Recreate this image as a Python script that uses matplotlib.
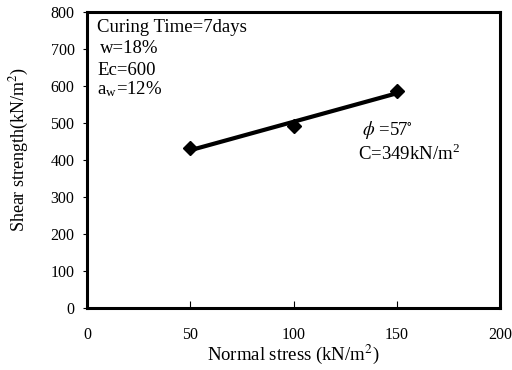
import numpy as np
import matplotlib
matplotlib.use("Agg")
import matplotlib.pyplot as plt

plt.rcParams['font.family'] = ['Liberation Serif', 'DejaVu Serif']
plt.rcParams['mathtext.fontset'] = 'stix'

normal_stress = [50, 100, 150]
shear_strength = [432, 492, 585]
phi_deg = 57
cohesion = 349
x_ticks = [0, 50, 100, 150, 200]
y_ticks = [0, 100, 200, 300, 400, 500, 600, 700, 800]

fig = plt.figure(figsize=(5.12, 3.70), dpi=100)
ax = fig.add_axes([0.170, 0.168, 0.807, 0.800])

# failure envelope from the stated friction angle and cohesion
xs = np.array([normal_stress[0], normal_stress[-1]])
ax.plot(xs, cohesion + np.tan(np.radians(phi_deg)) * xs, color='black', lw=3, solid_capstyle='butt')
ax.plot(normal_stress, shear_strength, linestyle='none', marker='D', ms=7, color='black')

ax.set_xlim(0, 200)
ax.set_ylim(0, 800)
ax.set_xticks(x_ticks)
ax.set_yticks(y_ticks)
ax.tick_params(axis='x', direction='in', length=5, width=0.8, pad=14, labelsize=11.5)
ax.tick_params(axis='y', direction='out', length=3, width=0.8, pad=6, labelsize=11.5)
for s in ax.spines.values():
    s.set_linewidth(2.2)

ax.set_xlabel('Normal stress (kN/m$^2$)', fontsize=13.5, va='top')
ax.xaxis.set_label_coords(0.5, -0.118)
ax.set_ylabel('Shear strength(kN/m$^2$)', fontsize=13)
ax.yaxis.set_label_coords(-0.135, 0.534)

fs = 13.5
ax.text(0.024, 0.932, 'Curing Time=7days', transform=ax.transAxes, fontsize=fs, va='baseline')
ax.text(0.032, 0.861, 'w=18%', transform=ax.transAxes, fontsize=fs, va='baseline')
ax.text(0.024, 0.787, 'Ec=600', transform=ax.transAxes, fontsize=fs, va='baseline')
ax.text(0.024, 0.720, 'a$_{\\mathregular{w}}$=12%', transform=ax.transAxes, fontsize=fs, va='baseline')
ax.text(0.666, 0.584, '$\\phi$ =57$^{\\circ}$', transform=ax.transAxes, fontsize=fs, va='baseline')
ax.text(0.656, 0.500, 'C=349kN/m$^{\\mathregular{2}}$', transform=ax.transAxes, fontsize=fs, va='baseline')

fig.savefig('out.png', dpi=100)
